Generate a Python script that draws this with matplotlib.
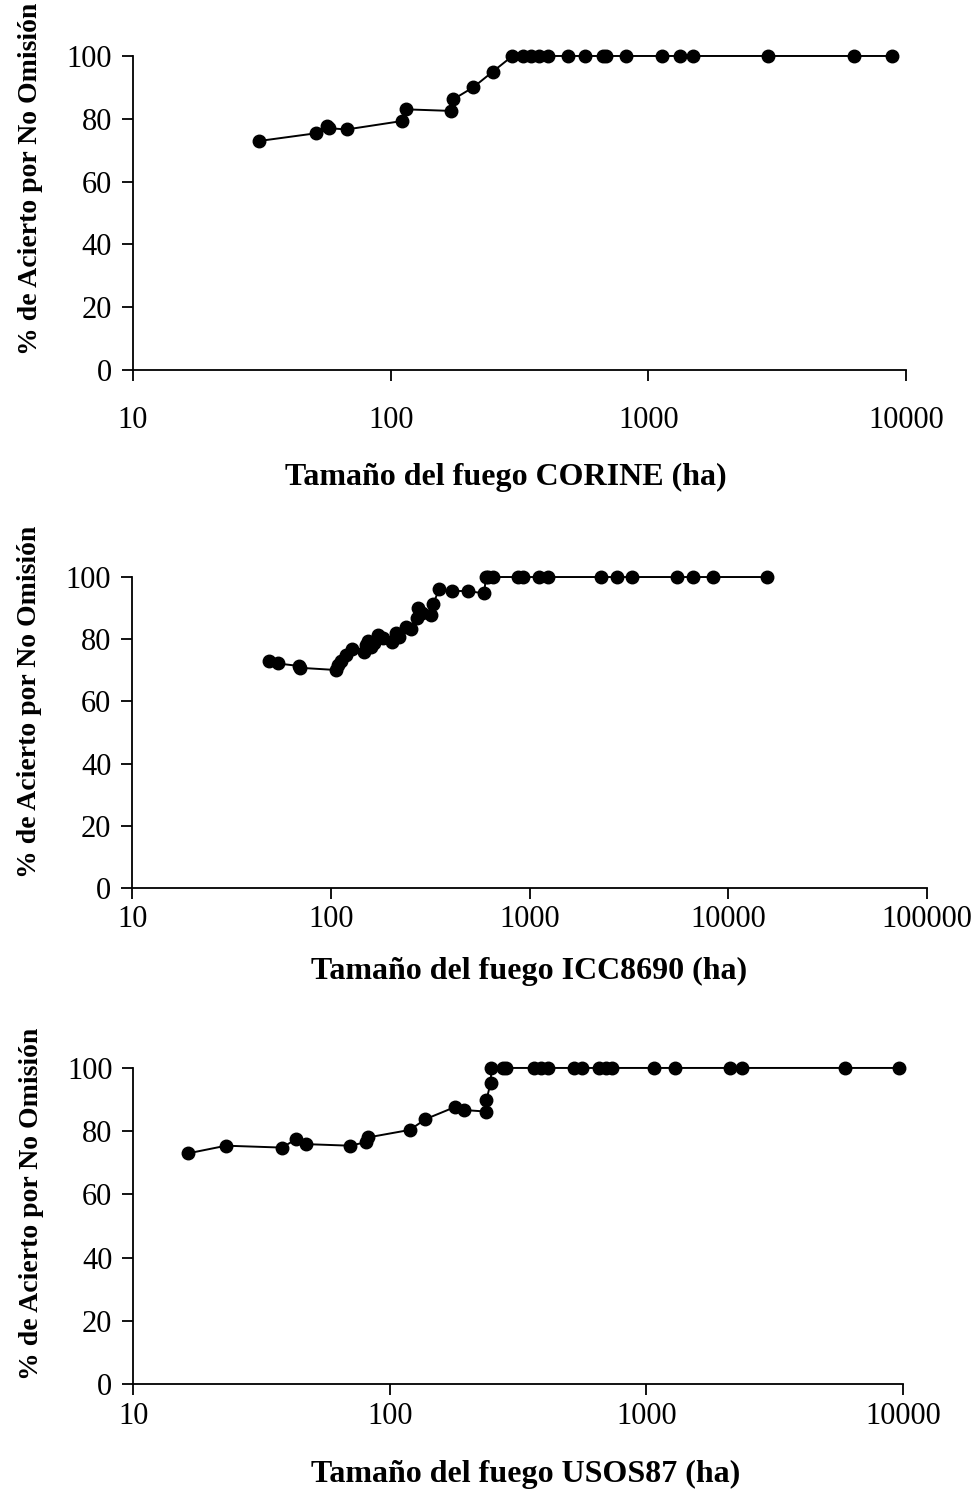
import matplotlib.pyplot as plt
from matplotlib.ticker import FixedLocator, FixedFormatter

plt.rcParams['font.family'] = ['Liberation Serif', 'DejaVu Serif']

# Tamaño del fuego (ha) y % de acierto, mapa CORINE
corine_ha = [30.7, 51.5, 56.4, 57.5, 67.5, 111, 115, 172, 175, 209, 249,
             297, 325, 351, 378, 407, 487, 570, 667, 687, 821, 1130, 1324,
             1493, 2904, 6310, 8830]
corine_pct = [72.9, 75.4, 77.7, 77.0, 76.6, 79.3, 83.0, 82.5, 86.2, 90.0, 95.0,
              100, 100, 100, 100, 100, 100, 100, 100, 100, 100, 100, 100,
              100, 100, 100, 100]

# mapa ICC8690
icc_ha = [49, 54, 68.8, 70, 105.7, 109, 113, 118.6, 128, 147, 151, 154, 160,
          165, 172, 183, 202, 212, 220, 240, 253, 270, 275, 286, 319, 328,
          350, 405, 491, 591, 603, 617, 656, 877, 929, 1120, 1241, 2280,
          2743, 3273, 5500, 6620, 8350, 15600]
icc_pct = [73.0, 72.2, 71.4, 70.8, 70.1, 71.7, 73.0, 74.9, 76.8, 75.8, 78.1,
           79.4, 77.5, 78.8, 81.4, 80.3, 79.2, 81.9, 80.8, 84.0, 83.2, 86.7,
           89.9, 88.3, 87.8, 91.3, 96.1, 95.5, 95.5, 94.7, 100, 100, 100, 100,
           100, 100, 100, 100, 100, 100, 100, 100, 100, 100]

# mapa USOS87
usos_ha = [16.4, 23, 38, 43, 47, 69.8, 80.7, 82, 119.7, 137.7, 179, 194, 237,
           238, 247, 249, 276, 283, 366, 389, 413, 520, 562, 656, 697, 736,
           1074, 1297, 2123, 2350, 5943, 9640]
usos_pct = [73.0, 75.4, 74.8, 77.4, 75.9, 75.4, 76.5, 78.0, 80.4, 83.8, 87.6,
            86.7, 86.2, 89.9, 95.2, 100, 100, 100, 100, 100, 100, 100, 100,
            100, 100, 100, 100, 100, 100, 100, 100, 100]

y_ticks = [0, 20, 40, 60, 80, 100]

panels = [
    # x, y, nombre, xmax, rect, coords etiqueta y, coords etiqueta x, pad ticks x
    (corine_ha, corine_pct, 'CORINE', 10000,
     [0.1357, 0.7542, 0.7888, 0.2086], (-0.116, 0.61), (0.482, -0.297), 18),
    (icc_ha, icc_pct, 'ICC8690', 100000,
     [0.1349, 0.4100, 0.8109, 0.2066], (-0.113, 0.60), (0.50, -0.223), 4),
    (usos_ha, usos_pct, 'USOS87', 10000,
     [0.1360, 0.0804, 0.7854, 0.2100], (-0.116, 0.57), (0.51, -0.239), 5),
]

fig = plt.figure(figsize=(9.8, 15.05), dpi=100)

for xs, ys, name, xmax, rect, ycoords, xcoords, xpad in panels:
    ax = fig.add_axes(rect)
    ax.plot(xs, ys, color='black', linewidth=1.4, marker='o',
            markersize=9, clip_on=False, zorder=3)
    ax.set_xscale('log')
    ax.set_xlim(10, xmax)
    ax.set_ylim(0, 100)

    decades = [10 ** k for k in range(1, len(str(xmax)))]
    ax.xaxis.set_major_locator(FixedLocator(decades))
    ax.xaxis.set_major_formatter(FixedFormatter([str(d) for d in decades]))
    ax.xaxis.set_minor_locator(FixedLocator([]))
    ax.set_yticks(y_ticks)

    for side in ['top', 'right']:
        ax.spines[side].set_visible(False)
    for side in ['left', 'bottom']:
        ax.spines[side].set_linewidth(1.3)
    ax.tick_params(axis='both', direction='out', length=8, width=1.3,
                   labelsize=22)
    ax.tick_params(axis='x', pad=xpad)
    ax.tick_params(axis='y', pad=7)

    ax.set_ylabel('% de Acierto por No Omisión', fontsize=20,
                  fontweight='bold')
    ax.yaxis.set_label_coords(*ycoords)
    ax.set_xlabel('Tamaño del fuego ' + name + ' (ha)', fontsize=23,
                  fontweight='bold')
    ax.xaxis.set_label_coords(*xcoords)

fig.savefig('out.png', dpi=100)
